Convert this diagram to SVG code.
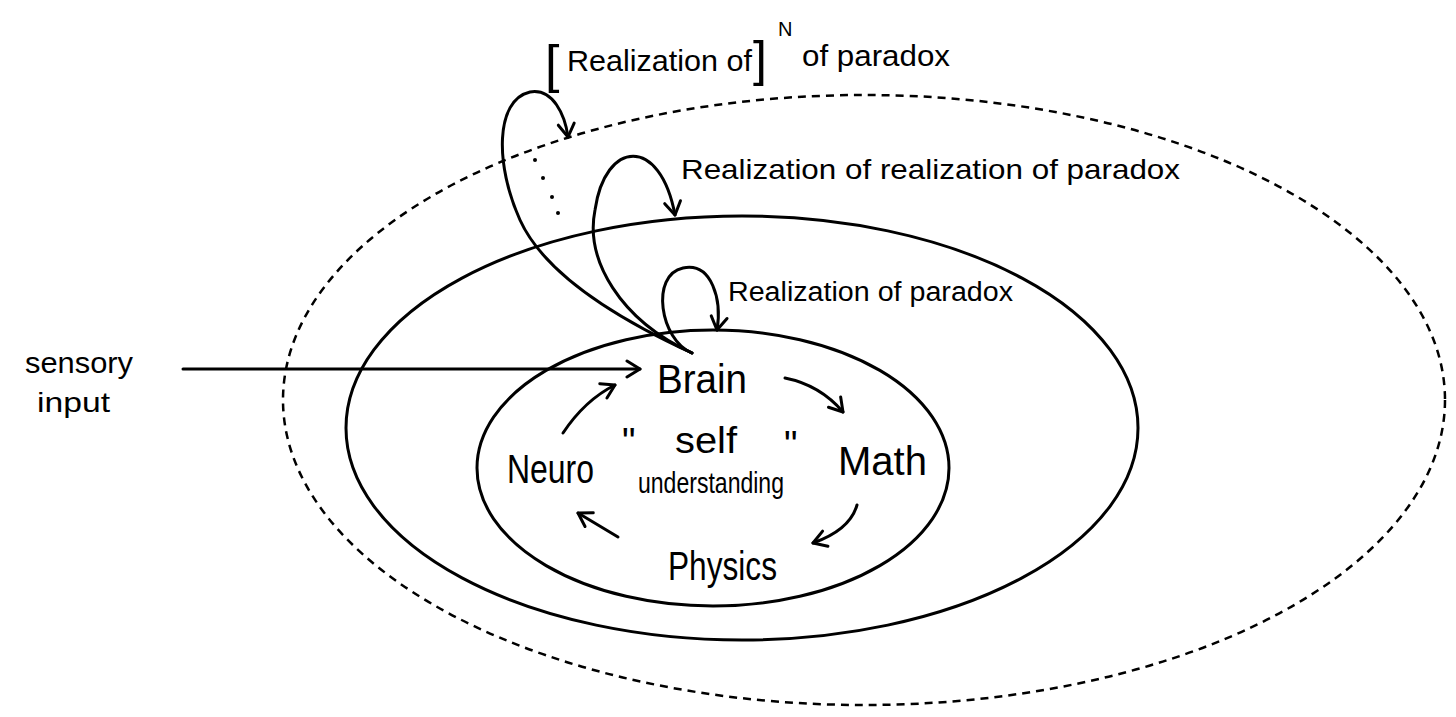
<svg xmlns="http://www.w3.org/2000/svg" width="1456" height="717" viewBox="0 0 1456 717">
<style>
.bg{fill:#fff}
.ell{fill:none;stroke:#000;stroke-width:3}
.dash{fill:none;stroke:#000;stroke-width:2.5;stroke-dasharray:8 6}
.con{fill:none;stroke:#000;stroke-width:3;stroke-linecap:round;stroke-linejoin:round}
.t{font-family:"Liberation Sans",Arial,sans-serif;fill:#000}
.node{font-size:40px}
.q{font-size:38px}
</style>
<defs>
<marker id="ah" viewBox="0 0 20 20" refX="17" refY="10" markerWidth="20" markerHeight="20" markerUnits="userSpaceOnUse" orient="auto">
<path d="M4,2 L17,10 L4,18" fill="none" stroke="#000" stroke-width="3" stroke-linecap="round" stroke-linejoin="round"/>
</marker>
</defs>
<rect class="bg" width="1456" height="717"/>
<g id="outer-level">
<ellipse class="dash" cx="864" cy="400" rx="581" ry="305"/>
</g>
<g id="middle-level">
<ellipse class="ell" cx="742" cy="428" rx="396" ry="212"/>
</g>
<g id="inner-level">
<ellipse class="ell" cx="713" cy="468" rx="236" ry="138"/>
</g>
<g id="connectors">
<path class="con" d="M183,369 L640,369" marker-end="url(#ah)"/>
<path class="con" d="M692,353 C660,340 650,275 683,268 C712,262 722,300 717,330" marker-end="url(#ah)"/>
<path class="con" d="M692,353 C620,320 585,260 595,210 C605,140 660,135 675,215" marker-end="url(#ah)"/>
<path class="con" d="M692,353 C620,320 545,275 520,220 C495,165 495,100 530,92 C553,88 565,115 568,137" marker-end="url(#ah)"/>
<path class="con" d="M785,378 Q820,385 843,412" marker-end="url(#ah)"/>
<path class="con" d="M857,505 Q850,530 813,543" marker-end="url(#ah)"/>
<path class="con" d="M618,537 L578,513" marker-end="url(#ah)"/>
<path class="con" d="M563,433 Q585,400 615,385" marker-end="url(#ah)"/>
<g id="ellipsis-dots" fill="#000">
<circle cx="535" cy="160" r="2"/>
<circle cx="543" cy="178" r="2"/>
<circle cx="552" cy="197" r="2"/>
<circle cx="558" cy="213" r="2"/>
</g>
</g>
<g id="label-sensory">
<text class="t" x="25" y="373" font-size="30" textLength="108" lengthAdjust="spacingAndGlyphs">sensory</text>
<text class="t" x="37" y="412" font-size="28" textLength="73" lengthAdjust="spacingAndGlyphs">input</text>
</g>
<g id="label-n">
<text class="t" x="545" y="82" font-size="52">[</text>
<text class="t" x="567" y="71" font-size="30" textLength="185" lengthAdjust="spacingAndGlyphs">Realization of</text>
<text class="t" x="753" y="76" font-size="50">]</text>
<text class="t" x="778" y="36" font-size="20">N</text>
<text class="t" x="802" y="66" font-size="30" textLength="148" lengthAdjust="spacingAndGlyphs">of paradox</text>
</g>
<g id="label-rr">
<text class="t" x="681" y="179" font-size="28" textLength="499" lengthAdjust="spacingAndGlyphs">Realization of realization of  paradox</text>
</g>
<g id="label-r">
<text class="t" x="728" y="301" font-size="27" textLength="285" lengthAdjust="spacingAndGlyphs">Realization of paradox</text>
</g>
<g id="node-brain">
<text class="t node" x="657" y="393" textLength="90" lengthAdjust="spacingAndGlyphs">Brain</text>
</g>
<g id="node-math">
<text class="t node" x="838" y="475" textLength="89" lengthAdjust="spacingAndGlyphs">Math</text>
</g>
<g id="node-neuro">
<text class="t node" x="507" y="483" textLength="87" lengthAdjust="spacingAndGlyphs">Neuro</text>
</g>
<g id="node-physics">
<text class="t node" x="668" y="580" font-size="38" textLength="109" lengthAdjust="spacingAndGlyphs">Physics</text>
</g>
<g id="node-self">
<text class="t q" x="622" y="455">"</text>
<text class="t" x="675" y="453" font-size="36" textLength="62" lengthAdjust="spacingAndGlyphs">self</text>
<text class="t q" x="784" y="458">"</text>
<text class="t" x="638" y="493" font-size="29" textLength="146" lengthAdjust="spacingAndGlyphs">understanding</text>
</g>
</svg>
